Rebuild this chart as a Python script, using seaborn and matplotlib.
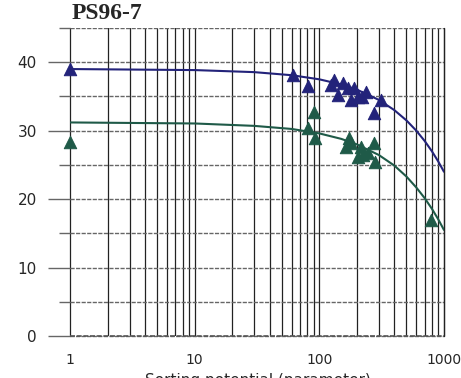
import numpy as np
import pandas as pd
import matplotlib
matplotlib.use("Agg")
import matplotlib.pyplot as plt
import seaborn as sns

# upper series (blue)
blue_x = [1, 61, 81, 124, 131, 141, 154, 169, 179, 189, 204, 220, 236, 274, 312]
blue_y = [39.0, 38.1, 36.5, 36.6, 37.4, 35.2, 36.9, 36.2, 34.5, 36.2, 34.9, 34.9, 35.6, 32.6, 34.5]

# lower series (green)
green_x = [1, 81, 90, 92, 163, 172, 179, 204, 215, 224, 244, 274, 282, 787]
green_y = [28.3, 30.4, 32.7, 28.9, 27.6, 28.9, 28.2, 26.1, 27.6, 26.4, 26.7, 28.2, 25.4, 16.9]

# trend curves
curve_x = [1, 10, 30, 60, 100, 150, 200, 300, 400, 500, 600, 700, 800, 900, 1000]
blue_curve = [39.0, 38.85, 38.55, 38.1, 37.5, 36.75, 36.0, 34.5, 33.0, 31.5, 30.0, 28.5, 27.0, 25.5, 24.0]
green_curve = [31.2, 31.05, 30.7, 30.25, 29.6, 28.8, 28.0, 26.45, 24.9, 23.3, 21.7, 20.15, 18.6, 17.05, 15.5]

y_ticks = [0, 10, 20, 30, 40]
x_ticks = [1, 10, 100, 1000]

navy = "#23237a"
green = "#1f5a48"

sns.set_style("white")
fig = plt.figure(figsize=(4.61, 3.78), dpi=100)
ax = fig.add_axes([0.152, 0.111, 0.811, 0.815])

ax.set_xscale("log")
ax.set_xlim(1, 1000)
ax.set_ylim(0, 45)

# grid: vertical log lines and horizontal lines every 5
ax.grid(True, which="both", axis="x", color="#222222", lw=0.9)
ax.grid(True, which="both", axis="y", color="#666666", lw=1.0, ls=(0, (3, 1)))
for gl in ax.get_xgridlines() + ax.get_ygridlines():
    gl.set_clip_on(False)
ax.axhline(0, color="#555555", lw=1.2, ls=(0, (3, 1)), clip_on=False)
ax.axvline(1000, color="#222222", lw=0.9, clip_on=False)

ax.set_yticks(y_ticks)
ax.set_yticks([5, 15, 25, 35, 45], minor=True)
ax.set_xticks(x_ticks)
ax.set_xticklabels(["1", "10", "100", "1000"])
ax.set_yticklabels([str(v) for v in y_ticks])
ax.tick_params(axis="y", which="major", left=True, length=16, width=1.0, color="#666666", pad=8, labelsize=11)
ax.tick_params(axis="y", which="minor", left=True, length=8, width=1.0, color="#666666")
ax.tick_params(axis="x", which="both", length=0, pad=12, labelsize=10)
for s in ax.spines.values():
    s.set_visible(False)

df_c = pd.DataFrame({"x": curve_x, "b": blue_curve, "g": green_curve})
sns.lineplot(data=df_c, x="x", y="b", color=navy, lw=1.5, ax=ax)
sns.lineplot(data=df_c, x="x", y="g", color=green, lw=1.5, ax=ax)

sns.scatterplot(x=blue_x, y=blue_y, marker="^", s=80, color=navy, edgecolor=navy, ax=ax, zorder=3, clip_on=False)
sns.scatterplot(x=green_x, y=green_y, marker="^", s=80, color=green, edgecolor=green, ax=ax, zorder=3, clip_on=False)

ax.set_xlabel("")
ax.set_ylabel("")

fig.text(0.155, 0.965, "PS96-7", fontsize=17, fontweight="bold", family="Liberation Serif", va="center")
fig.text(0.56, 0.012, "Sorting potential (parameter)", fontsize=11, ha="center", va="top")

fig.savefig("out.png", dpi=100)
